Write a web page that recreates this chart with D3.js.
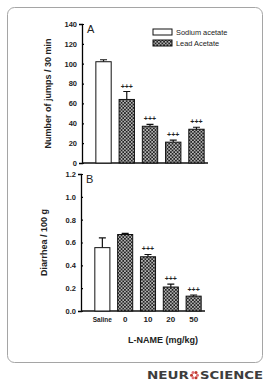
<!DOCTYPE html>
<html>
<head>
<meta charset="utf-8">
<script src="https://cdn.jsdelivr.net/npm/d3@7"></script>
<style>
  body { margin: 0; background: #fff; }
  svg { display: block; font-family: "Liberation Sans", Arial, sans-serif; }
</style>
</head>
<body>
<svg width="269" height="389"></svg>
<script>
// Data
const groups = ["Saline", "0", "10", "20", "50"];
const jumps = [102, 64, 37, 21, 34];
const jumpsErr = [2, 8, 2, 2, 2];
const diarrhea = [0.555, 0.67, 0.475, 0.21, 0.13];
const diarrheaErr = [0.085, 0.01, 0.02, 0.025, 0.01];
const treatment = ["sodium", "lead", "lead", "lead", "lead"];
const marks = ["", "+++", "+++", "+++", "+++"];
const marksB = ["", "", "+++", "+++", "+++"];
const jumpTicks = [0, 20, 40, 60, 80, 100, 120, 140];
const diarrheaTicks = [0, 0.2, 0.4, 0.6, 0.8, 1.0, 1.2];

const svg = d3.select("svg");

// frame
svg.append("rect")
    .attr("x", 7.5).attr("y", 7.5)
    .attr("width", 255).attr("height", 355)
    .attr("rx", 7)
    .attr("fill", "#fff")
    .attr("stroke", "#a5a5a5")
    .attr("stroke-width", 1);

// dotted fill used for lead acetate bars
const defs = svg.append("defs");
const pat = defs.append("pattern")
    .attr("id", "dots")
    .attr("patternUnits", "userSpaceOnUse")
    .attr("width", 3.4).attr("height", 3.4);
pat.append("rect").attr("width", 3.4).attr("height", 3.4).attr("fill", "#222");
pat.append("circle").attr("cx", 0.85).attr("cy", 0.85).attr("r", 0.75).attr("fill", "#fff");
pat.append("circle").attr("cx", 2.55).attr("cy", 2.55).attr("r", 0.75).attr("fill", "#fff");

const fillFor = t => t === "lead" ? "url(#dots)" : "#fff";

function panel(opts) {
    const g = svg.append("g");
    const x = d3.scaleBand().domain(groups)
        .range([opts.x0 + 12, opts.x1 - 2]).paddingInner(0.34).paddingOuter(0.08);
    const y = d3.scaleLinear().domain(opts.domain).range([opts.yb, opts.yt]);

    // y axis
    const ya = g.append("g")
        .attr("transform", `translate(${opts.x0},0)`)
        .call(d3.axisLeft(y).tickValues(opts.ticks).tickFormat(opts.fmt).tickSize(3).tickPadding(2));
    ya.select(".domain").attr("stroke-width", 1.3);
    ya.selectAll("text").attr("font-size", 7.5).attr("font-weight", "bold").attr("fill", "#222");
    ya.selectAll("line").attr("stroke-width", 1.2);
    ya.selectAll(".tick line").attr("x2", 2);

    // x axis line
    g.append("line")
        .attr("x1", opts.x0).attr("x2", opts.x1)
        .attr("y1", opts.yb).attr("y2", opts.yb)
        .attr("stroke", "#111").attr("stroke-width", 1.3);

    // error bars
    g.selectAll(".err").data(opts.values).join("path")
        .attr("d", (d, i) => {
            const cx = x(groups[i]) + x.bandwidth() / 2;
            const yt = y(d + opts.err[i]);
            return `M${cx},${y(d)}V${yt}M${cx - 3.5},${yt}H${cx + 3.5}`;
        })
        .attr("stroke", "#111").attr("stroke-width", 1.2).attr("fill", "none");

    // bars
    g.selectAll(".bar").data(opts.values).join("rect")
        .attr("x", (d, i) => x(groups[i]))
        .attr("y", d => y(d))
        .attr("width", x.bandwidth())
        .attr("height", d => y(0) - y(d))
        .attr("fill", (d, i) => fillFor(treatment[i]))
        .attr("stroke", "#111").attr("stroke-width", 1);

    // significance marks
    g.selectAll(".mark").data(opts.values).join("text")
        .attr("x", (d, i) => x(groups[i]) + x.bandwidth() / 2)
        .attr("y", (d, i) => y(d + opts.err[i]) - 3)
        .attr("text-anchor", "middle")
        .attr("font-size", 7).attr("font-weight", "bold").attr("fill", "#222")
        .text((d, i) => opts.marks[i]);

    // panel letter
    g.append("text")
        .attr("x", opts.x0 + 5).attr("y", opts.yt + 9)
        .attr("font-size", 11).attr("fill", "#222")
        .text(opts.letter);

    // y label
    g.append("text")
        .attr("transform", `translate(${opts.labelX},${(opts.yt + opts.yb) / 2}) rotate(-90)`)
        .attr("text-anchor", "middle")
        .attr("font-size", 9).attr("font-weight", "bold").attr("fill", "#222")
        .text(opts.label);

    return x;
}

panel({
    x0: 82, x1: 208, yt: 24, yb: 163,
    domain: [0, 140], ticks: jumpTicks, fmt: d3.format("d"),
    values: jumps, err: jumpsErr, marks: marks,
    letter: "A", label: "Number of jumps / 30 min", labelX: 51
});

const xB = panel({
    x0: 81, x1: 205, yt: 174, yb: 311,
    domain: [0, 1.2], ticks: diarrheaTicks, fmt: d3.format(".1f"),
    values: diarrhea, err: diarrheaErr, marks: marksB,
    letter: "B", label: "Diarrhea / 100 g", labelX: 47
});

// x category labels under panel B
svg.append("g").selectAll("text").data(groups).join("text")
    .attr("x", d => xB(d) + xB.bandwidth() / 2)
    .attr("y", 322)
    .attr("text-anchor", "middle")
    .attr("font-size", d => d === "Saline" ? 6.5 : 8)
    .attr("font-weight", "bold").attr("fill", "#222")
    .text(d => d);

svg.append("text")
    .attr("x", 163).attr("y", 343)
    .attr("text-anchor", "middle")
    .attr("font-size", 9).attr("font-weight", "bold").attr("fill", "#222")
    .text("L-NAME  (mg/kg)");

// legend
const legend = [["Sodium acetate", "sodium"], ["Lead Acetate", "lead"]];
const lg = svg.append("g").attr("transform", "translate(153,29)");
lg.selectAll("rect").data(legend).join("rect")
    .attr("x", 0).attr("y", (d, i) => i * 11)
    .attr("width", 19).attr("height", 6)
    .attr("fill", d => fillFor(d[1]))
    .attr("stroke", "#111").attr("stroke-width", 1);
lg.selectAll("text").data(legend).join("text")
    .attr("x", 23).attr("y", (d, i) => i * 11 + 6)
    .attr("font-size", 7.4).attr("fill", "#222")
    .text(d => d[0]);

// journal logo
const logo = svg.append("g").attr("transform", "translate(147,379)")
    .attr("font-family", "'DejaVu Sans', sans-serif");
logo.append("text")
    .attr("x", 0).attr("y", 0)
    .attr("font-size", 10.5).attr("font-weight", "bold").attr("fill", "#3d3d3d")
    .attr("textLength", 42).attr("lengthAdjust", "spacingAndGlyphs")
    .text("NEUR");
logo.append("text")
    .attr("x", 53).attr("y", 0)
    .attr("font-size", 10.5).attr("font-weight", "bold").attr("fill", "#3d3d3d")
    .attr("textLength", 63).attr("lengthAdjust", "spacingAndGlyphs")
    .text("SCIENCE");
const petals = d3.range(6).map(i => i * 60);
logo.selectAll("circle").data(petals).join("circle")
    .attr("cx", d => 47.5 + 3 * Math.cos(d * Math.PI / 180))
    .attr("cy", d => -3.8 + 3 * Math.sin(d * Math.PI / 180))
    .attr("r", 1.5)
    .attr("fill", (d, i) => i % 2 ? "#c0392b" : "#e0707a");
</script>
</body>
</html>
